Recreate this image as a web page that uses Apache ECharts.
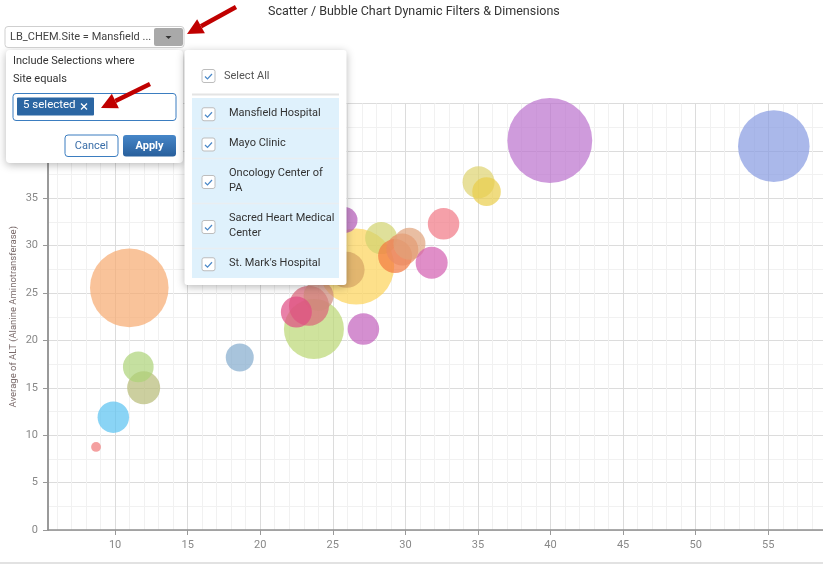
<!DOCTYPE html>
<html>
<head>
<meta charset="utf-8">
<title>Scatter / Bubble Chart Dynamic Filters &amp; Dimensions</title>
<script src="https://cdn.jsdelivr.net/npm/echarts@6/dist/echarts.min.js"></script>
<style>
  html, body { margin: 0; padding: 0; background: #fff; }
  #chart { width: 823px; height: 567px; }
</style>
</head>
<body>
<div id="chart"></div>
<script>
// bubble data
const bubbleX = [8.69, 9.88, 11.97, 11.6, 10.98, 18.59, 23.7, 26.61, 25.95, 25.81, 23.36, 24.02, 22.49,
  28.33, 29.29, 29.79, 30.28, 32.63, 31.81, 27.11, 35.04, 35.59, 39.95, 55.38]
const bubbleY = [8.76, 11.9, 15.0, 17.2, 25.55, 18.2, 21.2, 27.8, 27.45, 32.7, 23.65, 24.7, 23.0,
  30.8, 28.9, 29.6, 30.2, 32.3, 28.2, 21.2, 36.7, 35.7, 41.1, 40.5]
const bubbleSize = [6, 62, 68, 59, 386, 49, 225, 361, 81, 42, 100, 56, 60,
  64, 72, 64, 64, 62, 64, 62, 64, 51, 450, 320]
const yTitle = 'Average of ALT (Alanine Aminotransferase)'
const siteNames = ['Mansfield Hospital', 'Mayo Clinic', 'Oncology Center of\nPA', 'Sacred Heart Medical\nCenter', "St. Mark's Hospital"]

const palette = ['#ef7777', '#58c2f1', '#b6ba76', '#acd377', '#f6a96f', '#83abcd', '#bad773', '#fcd358',
  '#d6a464', '#b259b6', '#da6478', '#cf8a7a', '#e04c83', '#d1d36f', '#f2783f', '#ea8a62', '#dfa27a',
  '#f17785', '#d35eb0', '#c25fbc', '#ded36f', '#eacd4a', '#ba70cd', '#869ae1']

const FONT = 'Roboto, "Noto Sans", sans-serif'

const chart = echarts.init(document.getElementById('chart'))

// small helpers for the filter popup
function txt(text, x, y, opt) {
  return {
    type: 'text', z: 100,
    style: Object.assign({ text: text, x: x, y: y, fill: '#333', font: '11px ' + FONT, verticalAlign: 'middle' }, opt || {})
  }
}
function checkbox(x, cy) {
  const y = cy - 6.5
  return [
    { type: 'rect', z: 100, shape: { x: x, y: y, width: 13, height: 13, r: 2 },
      style: { fill: '#fff', stroke: '#bdbdbd', lineWidth: 1 } },
    { type: 'polyline', z: 101, shape: { points: [[x + 3, y + 7], [x + 5.5, y + 9.5], [x + 10, y + 4.5]] },
      style: { stroke: '#4a88c8', lineWidth: 1.2, fill: null } }
  ]
}
function arrow(x1, y1, x2, y2) {
  const ang = Math.atan2(y2 - y1, x2 - x1)
  const len = 16, half = 8
  const bx = x2 - Math.cos(ang) * len, by = y2 - Math.sin(ang) * len
  const px = -Math.sin(ang) * half, py = Math.cos(ang) * half
  return [
    { type: 'line', z: 110, shape: { x1: x1, y1: y1, x2: bx, y2: by },
      style: { stroke: '#c00000', lineWidth: 4.5 } },
    { type: 'polygon', z: 110, shape: { points: [[x2, y2], [bx + px, by + py], [bx - px, by - py]] },
      style: { fill: '#c00000' } }
  ]
}

const popup = []
// dropdown
popup.push({ type: 'rect', z: 100, shape: { x: 5, y: 26.5, width: 179, height: 21, r: 3 },
  style: { fill: '#fff', stroke: '#cfcfcf', lineWidth: 1 } })
popup.push(txt('LB_CHEM.Site = Mansfield ...', 10, 37.5, { fill: '#444' }))
popup.push({ type: 'rect', z: 100, shape: { x: 154, y: 28, width: 29, height: 18, r: 2 },
  style: { fill: '#a9a9a9' } })
popup.push({ type: 'polygon', z: 101, shape: { points: [[165.5, 36], [171.5, 36], [168.5, 39]] },
  style: { fill: '#333' } })

// left panel
popup.push({ type: 'rect', z: 99, shape: { x: 6, y: 50, width: 177, height: 113, r: 4 },
  style: { fill: '#fff', shadowBlur: 8, shadowColor: 'rgba(0,0,0,0.28)', shadowOffsetY: 2 } })
popup.push(txt('Include Selections where', 13, 61))
popup.push(txt('Site equals', 13, 79))
popup.push({ type: 'rect', z: 100, shape: { x: 13, y: 93.5, width: 163, height: 27, r: 3 },
  style: { fill: '#fff', stroke: '#3b7dc0', lineWidth: 1 } })
popup.push({ type: 'rect', z: 100, shape: { x: 17, y: 97.5, width: 77, height: 18, r: 1 },
  style: { fill: '#2b66a3' } })
popup.push(txt('5 selected', 23, 105.5, { fill: '#fff', font: '11.5px ' + FONT }))
popup.push({ type: 'polyline', z: 101, shape: { points: [[81, 103.5], [87, 109.5]] }, style: { stroke: '#fff', lineWidth: 1.2 } })
popup.push({ type: 'polyline', z: 101, shape: { points: [[81, 109.5], [87, 103.5]] }, style: { stroke: '#fff', lineWidth: 1.2 } })
popup.push({ type: 'rect', z: 100, shape: { x: 65, y: 135, width: 53, height: 21.5, r: 3 },
  style: { fill: '#fff', stroke: '#3b7dc0', lineWidth: 1 } })
popup.push(txt('Cancel', 91.5, 146, { fill: '#3a6ea8', align: 'center' }))
popup.push({ type: 'rect', z: 100, shape: { x: 123, y: 135, width: 53, height: 21.5, r: 3 },
  style: { fill: new echarts.graphic.LinearGradient(0, 0, 0, 1, [
    { offset: 0, color: '#4686c8' }, { offset: 1, color: '#285f9c' }]) } })
popup.push(txt('Apply', 149.5, 146, { fill: '#fff', align: 'center', font: 'bold 11px ' + FONT }))

// right panel with the site list
popup.push({ type: 'rect', z: 99, shape: { x: 184.5, y: 50, width: 162, height: 235, r: 3 },
  style: { fill: '#fff', shadowBlur: 8, shadowColor: 'rgba(0,0,0,0.28)', shadowOffsetY: 2 } })
checkbox(202, 76).forEach(e => popup.push(e))
popup.push(txt('Select All', 224, 76, { fill: '#555' }))
popup.push({ type: 'line', z: 100, shape: { x1: 192, y1: 94.5, x2: 339, y2: 94.5 },
  style: { stroke: '#e4e4e4', lineWidth: 2 } })
popup.push({ type: 'rect', z: 100, shape: { x: 192, y: 98, width: 147, height: 180 },
  style: { fill: '#dff1fc' } })
const rowEdges = [98, 128.5, 158.5, 203.5, 248.5, 278]
for (let i = 0; i < siteNames.length; i++) {
  const cy = (rowEdges[i] + rowEdges[i + 1]) / 2
  if (i > 0) {
    popup.push({ type: 'line', z: 101, shape: { x1: 192, y1: rowEdges[i], x2: 339, y2: rowEdges[i] },
      style: { stroke: '#e9eef1', lineWidth: 1.5 } })
  }
  checkbox(202, cy + 1).forEach(e => popup.push(e))
  popup.push(txt(siteNames[i], 229, cy, { lineHeight: 15 }))
}

// red annotation arrows
arrow(236, 7, 187, 34).forEach(e => popup.push(e))
arrow(150, 84, 101, 108).forEach(e => popup.push(e))

// bottom rule
popup.push({ type: 'line', z: 100, shape: { x1: 0, y1: 563, x2: 823, y2: 563 },
  style: { stroke: '#e2e2e2', lineWidth: 2 } })

const option = {
  animation: false,
  textStyle: { fontFamily: FONT },
  title: {
    text: 'Scatter / Bubble Chart Dynamic Filters & Dimensions',
    left: 263,
    top: 0,
    textStyle: { fontSize: 12.5, fontWeight: 'normal', color: '#333', fontFamily: FONT }
  },
  grid: { left: 48, right: 0, top: 103.5, bottom: 37, outerBoundsMode: 'none' },
  xAxis: {
    type: 'value',
    min: 5.38,
    max: 58.77,
    splitNumber: 10,
    axisLine: { lineStyle: { color: '#8e8e8e', width: 1.5 } },
    axisTick: { show: true, length: 5, lineStyle: { color: '#999' } },
    axisLabel: { color: '#888', fontSize: 11, margin: 10, showMinLabel: false, showMaxLabel: false },
    splitLine: { show: true, lineStyle: { color: '#dcdcdc' } },
    minorTick: { show: false, splitNumber: 5 },
    minorSplitLine: { show: true, lineStyle: { color: '#f1f1f1' } }
  },
  yAxis: {
    type: 'value',
    min: 0,
    max: 45,
    interval: 5,
    name: yTitle,
    nameLocation: 'middle',
    nameGap: 29,
    nameMoveOverlap: false,
    nameTextStyle: { color: '#7a6a6a', fontSize: 9.5 },
    axisLine: { show: true, lineStyle: { color: '#9a9a9a', width: 2 } },
    axisTick: { show: true, length: 5, lineStyle: { color: '#999' } },
    axisLabel: { color: '#888', fontSize: 11, margin: 10 },
    splitLine: { show: true, lineStyle: { color: '#dcdcdc' } },
    minorTick: { show: false, splitNumber: 2 },
    minorSplitLine: { show: true, lineStyle: { color: '#f1f1f1' } }
  },
  series: [{
    type: 'scatter',
    data: bubbleX.map((x, i) => [x, bubbleY[i], bubbleSize[i]]),
    symbolSize: v => Math.sqrt(v[2]) * 4,
    itemStyle: {
      color: p => palette[p.dataIndex],
      opacity: 0.7
    }
  }],
  graphic: { elements: popup }
}
chart.setOption(option)
</script>
</body>
</html>
